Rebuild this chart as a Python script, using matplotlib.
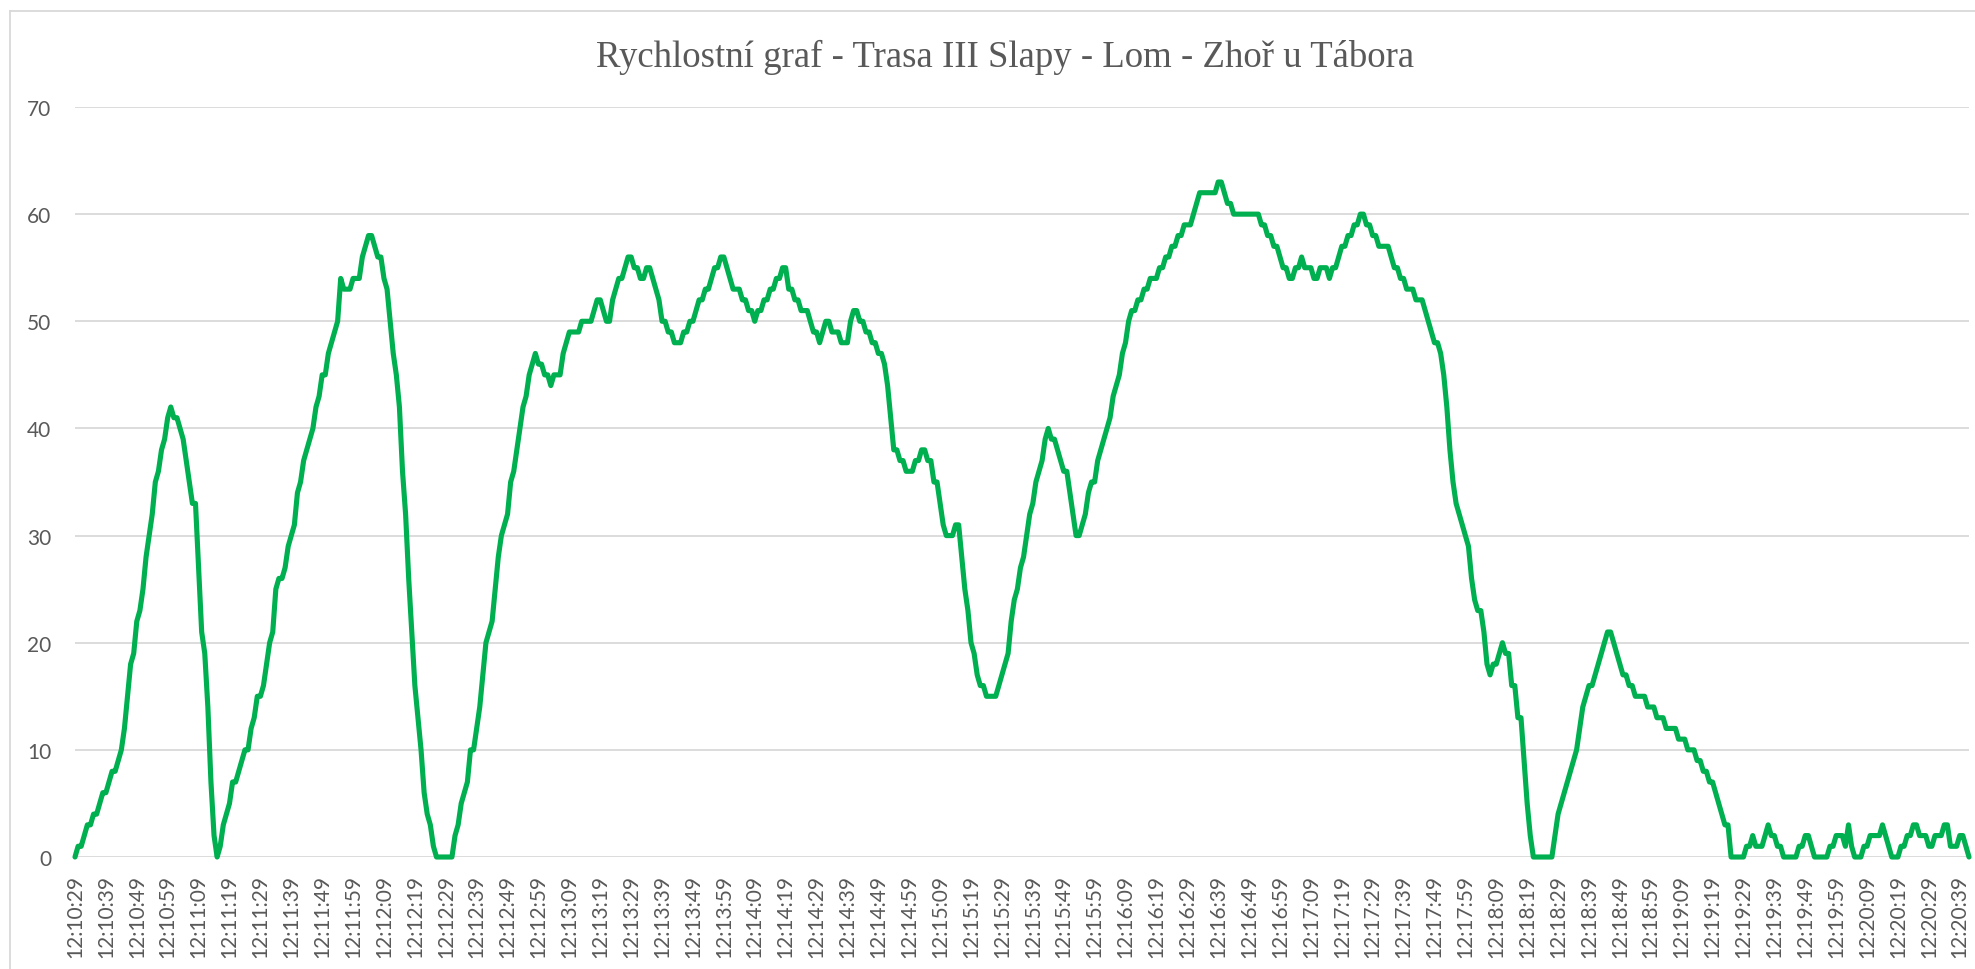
import matplotlib
matplotlib.use("Agg")
import matplotlib.pyplot as plt
from matplotlib.lines import Line2D

# Speed (km/h), one reading per second starting at 12:10:29
speed = [
    0, 1, 1, 2, 3, 3, 4, 4, 5, 6,            # 12:10:29
    6, 7, 8, 8, 9, 10, 12, 15, 18, 19,
    22, 23, 25, 28, 30, 32, 35, 36, 38, 39,
    41, 42, 41, 41, 40, 39, 37, 35, 33, 33,
    27, 21, 19, 14, 7, 2, 0, 1, 3, 4,
    5, 7, 7, 8, 9, 10, 10, 12, 13, 15,
    15, 16, 18, 20, 21, 25, 26, 26, 27, 29,
    30, 31, 34, 35, 37, 38, 39, 40, 42, 43,
    45, 45, 47, 48, 49, 50, 54, 53, 53, 53,  # 12:11:49
    54, 54, 54, 56, 57, 58, 58, 57, 56, 56,
    54, 53, 50, 47, 45, 42, 36, 32, 26, 21,
    16, 13, 10, 6, 4, 3, 1, 0, 0, 0,
    0, 0, 0, 2, 3, 5, 6, 7, 10, 10,
    12, 14, 17, 20, 21, 22, 25, 28, 30, 31,
    32, 35, 36, 38, 40, 42, 43, 45, 46, 47,
    46, 46, 45, 45, 44, 45, 45, 45, 47, 48,
    49, 49, 49, 49, 50, 50, 50, 50, 51, 52,  # 12:13:09
    52, 51, 50, 50, 52, 53, 54, 54, 55, 56,
    56, 55, 55, 54, 54, 55, 55, 54, 53, 52,
    50, 50, 49, 49, 48, 48, 48, 49, 49, 50,
    50, 51, 52, 52, 53, 53, 54, 55, 55, 56,
    56, 55, 54, 53, 53, 53, 52, 52, 51, 51,
    50, 51, 51, 52, 52, 53, 53, 54, 54, 55,
    55, 53, 53, 52, 52, 51, 51, 51, 50, 49,
    49, 48, 49, 50, 50, 49, 49, 49, 48, 48,  # 12:14:29
    48, 50, 51, 51, 50, 50, 49, 49, 48, 48,
    47, 47, 46, 44, 41, 38, 38, 37, 37, 36,
    36, 36, 37, 37, 38, 38, 37, 37, 35, 35,
    33, 31, 30, 30, 30, 31, 31, 28, 25, 23,
    20, 19, 17, 16, 16, 15, 15, 15, 15, 16,
    17, 18, 19, 22, 24, 25, 27, 28, 30, 32,
    33, 35, 36, 37, 39, 40, 39, 39, 38, 37,
    36, 36, 34, 32, 30, 30, 31, 32, 34, 35,  # 12:15:49
    35, 37, 38, 39, 40, 41, 43, 44, 45, 47,
    48, 50, 51, 51, 52, 52, 53, 53, 54, 54,
    54, 55, 55, 56, 56, 57, 57, 58, 58, 59,
    59, 59, 60, 61, 62, 62, 62, 62, 62, 62,
    63, 63, 62, 61, 61, 60, 60, 60, 60, 60,
    60, 60, 60, 60, 59, 59, 58, 58, 57, 57,
    56, 55, 55, 54, 54, 55, 55, 56, 55, 55,
    55, 54, 54, 55, 55, 55, 54, 55, 55, 56,  # 12:17:09
    57, 57, 58, 58, 59, 59, 60, 60, 59, 59,
    58, 58, 57, 57, 57, 57, 56, 55, 55, 54,
    54, 53, 53, 53, 52, 52, 52, 51, 50, 49,
    48, 48, 47, 45, 42, 38, 35, 33, 32, 31,
    30, 29, 26, 24, 23, 23, 21, 18, 17, 18,
    18, 19, 20, 19, 19, 16, 16, 13, 13, 9,
    5, 2, 0, 0, 0, 0, 0, 0, 0, 2,
    4, 5, 6, 7, 8, 9, 10, 12, 14, 15,        # 12:18:29
    16, 16, 17, 18, 19, 20, 21, 21, 20, 19,
    18, 17, 17, 16, 16, 15, 15, 15, 15, 14,
    14, 14, 13, 13, 13, 12, 12, 12, 12, 11,
    11, 11, 10, 10, 10, 9, 9, 8, 8, 7,
    7, 6, 5, 4, 3, 3, 0, 0, 0, 0,
    0, 1, 1, 2, 1, 1, 1, 2, 3, 2,
    2, 1, 1, 0, 0, 0, 0, 0, 1, 1,
    2, 2, 1, 0, 0, 0, 0, 0, 1, 1,            # 12:19:49
    2, 2, 2, 1, 3, 1, 0, 0, 0, 1,
    1, 2, 2, 2, 2, 3, 2, 1, 0, 0,
    0, 1, 1, 2, 2, 3, 3, 2, 2, 2,
    1, 1, 2, 2, 2, 3, 3, 1, 1, 1,
    2, 2, 1, 0,
]

# every 10th category gets a label
tick_labels = [
    "12:10:29", "12:10:39", "12:10:49", "12:10:59", "12:11:09", "12:11:19",
    "12:11:29", "12:11:39", "12:11:49", "12:11:59", "12:12:09", "12:12:19",
    "12:12:29", "12:12:39", "12:12:49", "12:12:59", "12:13:09", "12:13:19",
    "12:13:29", "12:13:39", "12:13:49", "12:13:59", "12:14:09", "12:14:19",
    "12:14:29", "12:14:39", "12:14:49", "12:14:59", "12:15:09", "12:15:19",
    "12:15:29", "12:15:39", "12:15:49", "12:15:59", "12:16:09", "12:16:19",
    "12:16:29", "12:16:39", "12:16:49", "12:16:59", "12:17:09", "12:17:19",
    "12:17:29", "12:17:39", "12:17:49", "12:17:59", "12:18:09", "12:18:19",
    "12:18:29", "12:18:39", "12:18:49", "12:18:59", "12:19:09", "12:19:19",
    "12:19:29", "12:19:39", "12:19:49", "12:19:59", "12:20:09", "12:20:19",
    "12:20:29", "12:20:39",
]
y_ticks = [0, 10, 20, 30, 40, 50, 60, 70]

TITLE = "Rychlostní graf - Trasa III Slapy - Lom - Zhoř u Tábora"
GREEN = "#00B050"
GRID = "#d9d9d9"
TEXT = "#595959"

W, H = 1975, 970
fig = plt.figure(figsize=(W / 100, H / 100), dpi=100)
ax = fig.add_axes([75 / W, 1 - 858 / H, (1969 - 75) / W, (858 - 108) / H])

x = list(range(len(speed)))
ax.plot(x, speed, color=GREEN, linewidth=3.7, solid_joinstyle="round",
        solid_capstyle="round", clip_on=False, zorder=3)

ax.set_xlim(0, len(speed) - 1)
ax.set_ylim(0, 70)
ax.set_yticks(y_ticks)
ax.set_xticks(x[::10][:len(tick_labels)])
ax.set_xticklabels(tick_labels, rotation=90)

for s in ax.spines.values():
    s.set_visible(False)
ax.grid(axis="y", color=GRID, linewidth=1.3)
ax.set_axisbelow(True)
ax.tick_params(axis="both", length=0, colors=TEXT, labelsize=15)
ax.tick_params(axis="y", pad=17)
ax.tick_params(axis="x", pad=12)
for lab in ax.get_xticklabels() + ax.get_yticklabels():
    lab.set_fontfamily(["Lato", "DejaVu Sans"])

fig.text(0.509, 1 - 67 / H, TITLE, ha="center", va="baseline", color=TEXT,
         fontsize=26.5, fontfamily=["Liberation Serif", "DejaVu Serif"])

# light chart-area border (only top and left edges are inside the picture)
fig.add_artist(Line2D([10 / W, 1.0], [1 - 12 / H, 1 - 12 / H],
                      transform=fig.transFigure, color=GRID, linewidth=1.3))
fig.add_artist(Line2D([10 / W, 10 / W], [0.0, 1 - 12 / H],
                      transform=fig.transFigure, color=GRID, linewidth=1.3))

fig.savefig("out.png", dpi=100)
